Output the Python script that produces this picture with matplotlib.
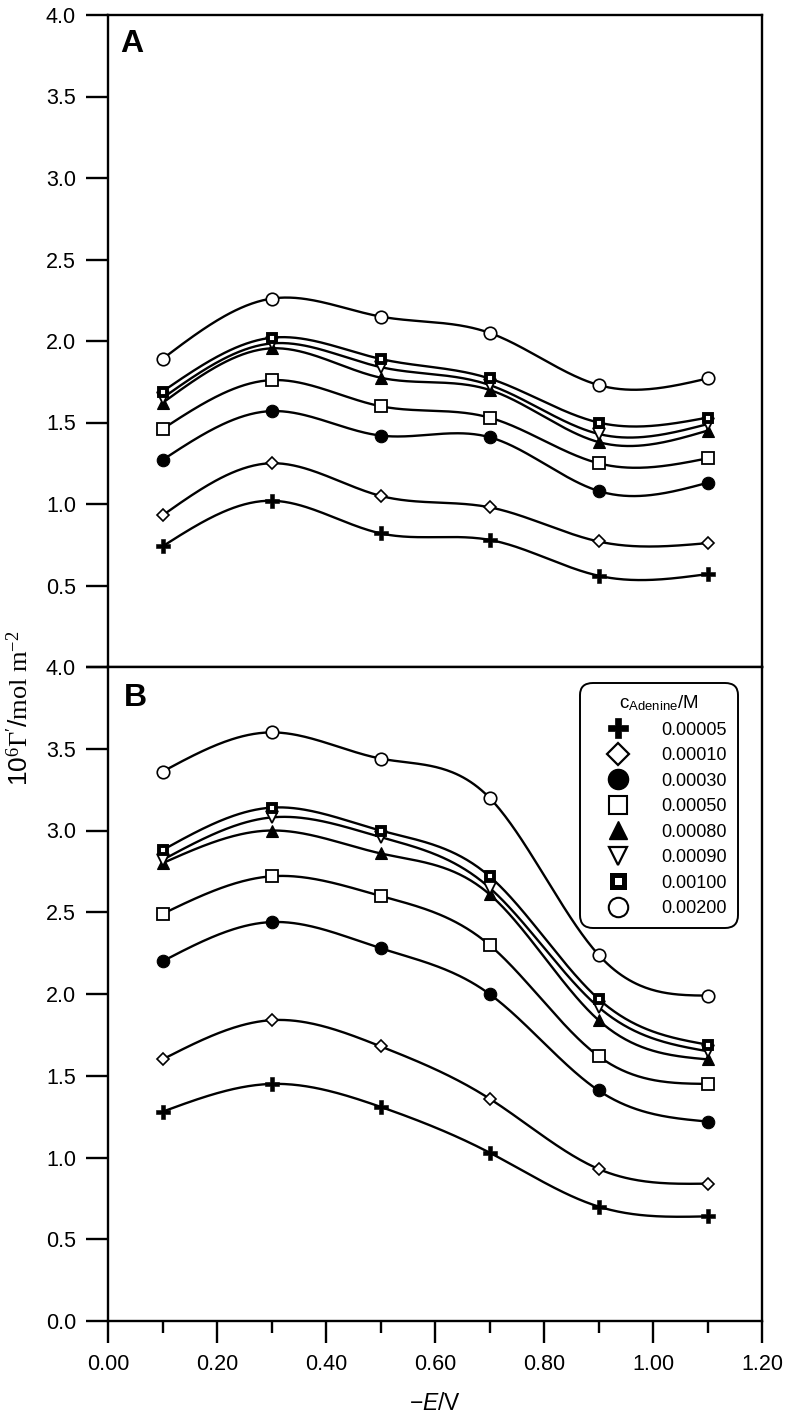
import numpy as np
import matplotlib
matplotlib.use("Agg")
import matplotlib.pyplot as plt
from matplotlib.lines import Line2D

plt.rcParams['font.family'] = ['Liberation Sans', 'DejaVu Sans']
plt.rcParams['mathtext.fontset'] = 'custom'
plt.rcParams['mathtext.rm'] = 'Liberation Serif'
plt.rcParams['mathtext.it'] = 'Liberation Serif:italic'
plt.rcParams['mathtext.sf'] = 'Liberation Sans:italic'

# ---------------- data ----------------
potential = [0.1, 0.3, 0.5, 0.7, 0.9, 1.1]   # -E / V
conc_labels = ['0.00005', '0.00010', '0.00030', '0.00050',
               '0.00080', '0.00090', '0.00100', '0.00200']

# panel A
A_00005 = [0.74, 1.02, 0.82, 0.78, 0.56, 0.57]
A_00010 = [0.93, 1.25, 1.05, 0.98, 0.77, 0.76]
A_00030 = [1.27, 1.57, 1.42, 1.41, 1.08, 1.13]
A_00050 = [1.46, 1.76, 1.60, 1.53, 1.25, 1.28]
A_00080 = [1.62, 1.955, 1.775, 1.70, 1.38, 1.45]
A_00090 = [1.65, 1.985, 1.84, 1.73, 1.43, 1.49]
A_00100 = [1.69, 2.02, 1.89, 1.77, 1.50, 1.53]
A_00200 = [1.89, 2.26, 2.15, 2.05, 1.73, 1.77]

# panel B
B_00005 = [1.28, 1.45, 1.31, 1.03, 0.70, 0.64]
B_00010 = [1.60, 1.84, 1.68, 1.36, 0.93, 0.84]
B_00030 = [2.20, 2.44, 2.28, 2.00, 1.41, 1.22]
B_00050 = [2.49, 2.72, 2.60, 2.30, 1.62, 1.45]
B_00080 = [2.80, 3.00, 2.86, 2.61, 1.84, 1.60]
B_00090 = [2.82, 3.08, 2.96, 2.65, 1.92, 1.65]
B_00100 = [2.88, 3.14, 3.00, 2.72, 1.97, 1.69]
B_00200 = [3.36, 3.60, 3.44, 3.20, 2.24, 1.99]

panel_A = [A_00005, A_00010, A_00030, A_00050, A_00080, A_00090, A_00100, A_00200]
panel_B = [B_00005, B_00010, B_00030, B_00050, B_00080, B_00090, B_00100, B_00200]

# ---------------- styles ----------------
styles = [
    dict(marker='P', ms=9.5, mfc='black', mec='black', mew=0.4),
    dict(marker='D', ms=6.5, mfc='white', mec='black', mew=1.2),
    dict(marker='o', ms=9.0, mfc='black', mec='black', mew=0.8),
    dict(marker='s', ms=8.0, mfc='white', mec='black', mew=1.3),
    dict(marker='^', ms=9.0, mfc='black', mec='black', mew=0.8),
    dict(marker='v', ms=9.0, mfc='white', mec='black', mew=1.3),
    dict(marker='s', ms=6.0, mfc='white', mec='black', mew=2.8),
    dict(marker='o', ms=9.0, mfc='white', mec='black', mew=1.2),
]
legend_styles = [
    dict(marker='P', ms=14, mfc='black', mec='black', mew=0.5),
    dict(marker='D', ms=11, mfc='white', mec='black', mew=1.6),
    dict(marker='o', ms=14.5, mfc='black', mec='black', mew=1.0),
    dict(marker='s', ms=13, mfc='white', mec='black', mew=1.5),
    dict(marker='^', ms=13, mfc='black', mec='black', mew=1.0),
    dict(marker='v', ms=13, mfc='white', mec='black', mew=1.6),
    dict(marker='s', ms=8.5, mfc='white', mec='black', mew=3.6),
    dict(marker='o', ms=14, mfc='white', mec='black', mew=1.5),
]


def natural_spline(x, y, n=300):
    x = np.asarray(x, float)
    y = np.asarray(y, float)
    m = len(x)
    h = np.diff(x)
    A = np.zeros((m, m))
    r = np.zeros(m)
    A[0, 0] = 1
    A[-1, -1] = 1
    for i in range(1, m - 1):
        A[i, i - 1] = h[i - 1]
        A[i, i] = 2 * (h[i - 1] + h[i])
        A[i, i + 1] = h[i]
        r[i] = 6 * ((y[i + 1] - y[i]) / h[i] - (y[i] - y[i - 1]) / h[i - 1])
    M = np.linalg.solve(A, r)
    xs = np.linspace(x[0], x[-1], n)
    idx = np.clip(np.searchsorted(x, xs) - 1, 0, m - 2)
    x0, x1 = x[idx], x[idx + 1]
    hh = x1 - x0
    a = (x1 - xs) / hh
    b = (xs - x0) / hh
    ys = (a * y[idx] + b * y[idx + 1]
          + ((a ** 3 - a) * M[idx] + (b ** 3 - b) * M[idx + 1]) * hh ** 2 / 6)
    return xs, ys


fig = plt.figure(figsize=(7.86, 14.17), dpi=100)
left = 108 / 786
width = (762 - 108) / 786
axA = fig.add_axes([left, 1 - 667 / 1417, width, (667 - 15) / 1417])
axB = fig.add_axes([left, 1 - 1321 / 1417, width, (1321 - 667) / 1417])

for ax, data in ((axA, panel_A), (axB, panel_B)):
    for vals, st in zip(data, styles):
        xs, ys = natural_spline(potential, vals)
        ax.plot(xs, ys, color='black', lw=1.7, zorder=2)
        ax.plot(potential, vals, ls='none', zorder=3, **st)
    ax.set_xlim(0, 1.2)
    ax.set_ylim(0, 4.0)
    ax.set_yticks(np.arange(0, 4.01, 0.5))
    ax.set_xticks(np.arange(0, 1.21, 0.2))
    ax.set_xticks(np.arange(0.1, 1.2, 0.2), minor=True)
    for s in ax.spines.values():
        s.set_linewidth(1.7)
    ax.tick_params(axis='y', direction='out', length=16, width=1.7, labelsize=15.5, pad=7)
    ax.tick_params(axis='x', which='major', direction='out', length=16, width=1.7,
                   labelsize=15.5, pad=8)
    ax.tick_params(axis='x', which='minor', direction='out', length=8.5, width=1.7)

axA.set_yticklabels(['', '0.5', '1.0', '1.5', '2.0', '2.5', '3.0', '3.5', '4.0'])
axA.tick_params(axis='x', which='both', bottom=False, labelbottom=False)
axB.set_yticklabels([f'{v:.1f}' for v in np.arange(0, 4.01, 0.5)])
axB.set_xticklabels([f'{v:.2f}' for v in np.arange(0, 1.21, 0.2)])

axA.text(0.019, 0.978, 'A', transform=axA.transAxes, fontsize=23,
         fontweight='bold', va='top', ha='left')
axB.text(0.025, 0.975, 'B', transform=axB.transAxes, fontsize=23,
         fontweight='bold', va='top', ha='left')

axB.set_xlabel(r'−$\mathsf{E}$/V', fontsize=16.5, labelpad=12)
fig.text(20 / 786, 1 - 708 / 1417,
         r'10$^{6}\mathit{\Gamma}^{\prime}$/$\mathrm{mol\ m}^{-2}$',
         rotation=90, fontsize=19, ha='center', va='center')

handles = [Line2D([], [], ls='none', **st) for st in legend_styles]
leg = axB.legend(handles, conc_labels, title=r'c$_{\mathregular{Adenine}}$/M',
                 loc='upper right', bbox_to_anchor=(0.963, 0.976),
                 borderaxespad=0.0,
                 fontsize=13, title_fontsize=13.5, numpoints=1,
                 fancybox=True, framealpha=1, edgecolor='black',
                 labelspacing=0.47, handletextpad=0.9, borderpad=0.6,
                 handlelength=3.0)
leg.get_frame().set_linewidth(1.4)
leg.get_frame().set_boxstyle('round', pad=0.0, rounding_size=0.7)

fig.savefig('out.png', dpi=100)
